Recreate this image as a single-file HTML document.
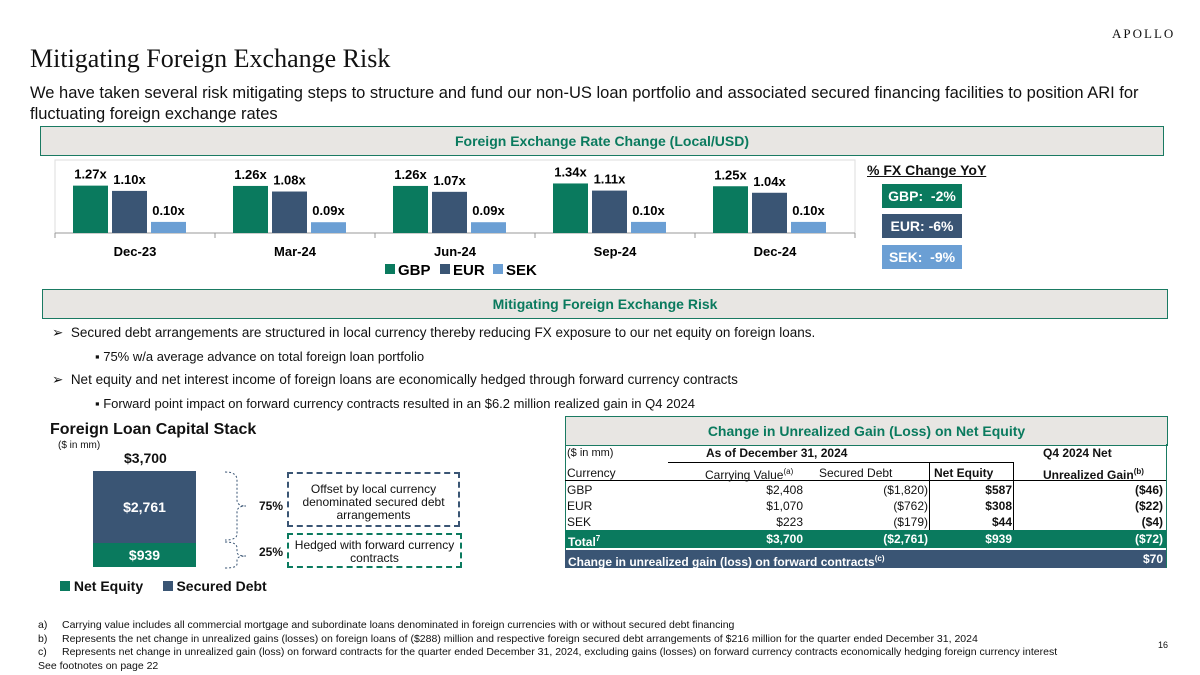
<!DOCTYPE html>
<html><head><meta charset="utf-8"><style>
body{margin:0;width:1200px;height:675px;position:relative;background:#fff;font-family:"Liberation Sans",sans-serif;color:#111;overflow:hidden}
.a{position:absolute;white-space:nowrap}
.hdr{position:absolute;background:#e8e6e3;border:1px solid #1a7a62;color:#0a7a5e;font-weight:bold;font-size:14px;text-align:center}
.b{font-weight:bold}
.td{position:absolute;font-size:12px;line-height:14px;white-space:nowrap}
</style></head><body>
<div class="a" style="left:1112px;top:26px;font-family:'Liberation Serif',serif;font-size:13px;letter-spacing:2px">APOLLO</div>
<div class="a" style="left:30px;top:44px;font-family:'Liberation Serif',serif;font-size:26px">Mitigating Foreign Exchange Risk</div>
<div class="a" style="left:30px;top:83px;font-size:16.5px;line-height:21px;white-space:normal;width:1140px">We have taken several risk mitigating steps to structure and fund our non-US loan portfolio and associated secured financing facilities to position ARI for fluctuating foreign exchange rates</div>
<div class="hdr" style="left:40px;top:126px;width:1122px;height:28px;line-height:28px">Foreign Exchange Rate Change (Local/USD)</div>

<svg id="fx" class="a" style="left:0;top:0" width="1200" height="290"></svg>

<div class="a b" style="left:867px;top:162px;font-size:14px;text-decoration:underline">% FX Change YoY</div>
<div class="a b" style="left:882px;top:184px;width:80px;height:24px;line-height:24px;text-align:center;background:#0a7a5e;color:#fff;font-size:14px">GBP:&nbsp; -2%</div>
<div class="a b" style="left:882px;top:214px;width:80px;height:24px;line-height:24px;text-align:center;background:#3a5574;color:#fff;font-size:14px">EUR: -6%</div>
<div class="a b" style="left:882px;top:245px;width:80px;height:24px;line-height:24px;text-align:center;background:#6b9fd4;color:#fff;font-size:14px">SEK:&nbsp; -9%</div>

<div class="hdr" style="left:42px;top:289px;width:1124px;height:28px;line-height:28px">Mitigating Foreign Exchange Risk</div>
<div class="a" style="left:52px;top:325px;font-size:13.5px">➢&nbsp; Secured debt arrangements are structured in local currency thereby reducing FX exposure to our net equity on foreign loans.</div>
<div class="a" style="left:95px;top:349px;font-size:13px">▪ 75% w/a average advance on total foreign loan portfolio</div>
<div class="a" style="left:52px;top:372px;font-size:13.5px">➢&nbsp; Net equity and net interest income of foreign loans are economically hedged through forward currency contracts</div>
<div class="a" style="left:95px;top:396px;font-size:13px">▪ Forward point impact on forward currency contracts resulted in an $6.2 million realized gain in Q4 2024</div>

<div class="a b" style="left:50px;top:421px;font-size:16px">Foreign Loan Capital Stack</div>
<div class="a" style="left:58px;top:440px;font-size:10px">($ in mm)</div>
<div class="a b" style="left:124px;top:450px;font-size:14px">$3,700</div>
<div class="a b" style="left:93px;top:471px;width:103px;height:72px;background:#3a5574;color:#fff;font-size:14px;text-align:center;line-height:72px">$2,761</div>
<div class="a b" style="left:93px;top:543px;width:103px;height:24px;background:#0a7a5e;color:#fff;font-size:14px;text-align:center;line-height:24px">$939</div>
<svg class="a" style="left:220px;top:468px" width="60" height="105">
<path d="M5 4 Q17 4 17 12 L17 32 Q17 38 26 38 Q17 38 17 44 L17 66 Q17 72 5 72" fill="none" stroke="#3a5574" stroke-dasharray="2 2"/>
<path d="M5 74 Q17 74 17 80 L17 84 Q17 88 26 88 Q17 88 17 92 L17 96 Q17 100 5 100" fill="none" stroke="#3a5574" stroke-dasharray="2 2"/>
</svg>
<div class="a b" style="left:259px;top:499px;font-size:12px">75%</div>
<div class="a b" style="left:259px;top:545px;font-size:12px">25%</div>
<div class="a" style="left:287px;top:472px;width:173px;height:55px;border:2px dashed #3a5574;font-size:12px;text-align:center;white-space:normal;line-height:13px;padding-top:9px;box-sizing:border-box">Offset by local currency denominated secured debt arrangements</div>
<div class="a" style="left:287px;top:533px;width:175px;height:35px;border:2px dashed #0a7a5e;font-size:12px;text-align:center;white-space:normal;line-height:13px;padding-top:4px;box-sizing:border-box">Hedged with forward currency contracts</div>
<div class="a b" style="left:60px;top:578px;font-size:14px"><span style="display:inline-block;width:10px;height:10px;background:#0a7a5e"></span> Net Equity &nbsp;&nbsp;&nbsp;&nbsp;<span style="display:inline-block;width:10px;height:10px;background:#3a5574"></span> Secured Debt</div>

<div>
<div class="hdr" style="left:565px;top:416px;width:601px;height:28px;line-height:28px">Change in Unrealized Gain (Loss) on Net Equity</div>
<div class="a" style="left:565px;top:444px;width:1px;height:124px;background:#1a7a62"></div>
<div class="a" style="left:1166px;top:444px;width:1px;height:124px;background:#1a7a62"></div>
<div class="td" style="left:567px;top:446px;font-size:11px">($ in mm)</div>
<div class="td b" style="left:706px;top:446px">As of December 31, 2024</div>
<div class="td b" style="left:1043px;top:446px">Q4 2024 Net</div>
<div class="a" style="left:668px;top:462px;width:346px;height:1px;background:#000"></div>
<div class="a" style="left:929px;top:462px;width:85px;height:68px;border-left:1px solid #000;border-right:1px solid #000;box-sizing:border-box"></div>
<div class="a" style="left:565px;top:480px;width:601px;height:1px;background:#000"></div>
<div class="td" style="left:567px;top:466px">Currency</div>
<div class="td" style="left:705px;top:465px">Carrying Value<sup style="font-size:8px">(a)</sup></div>
<div class="td" style="left:819px;top:466px">Secured Debt</div>
<div class="td b" style="left:934px;top:466px">Net Equity</div>
<div class="td b" style="left:1043px;top:465px">Unrealized Gain<sup style="font-size:8px">(b)</sup></div>
<div id="rows"></div>
<div class="a" style="left:565px;top:530px;width:601px;height:18px;background:#0a7a5e"></div>
<div class="td b" style="left:568px;top:532px;color:#fff">Total<sup style="font-size:8px">7</sup></div>
<div class="td b" style="right:397px;top:532px;color:#fff">$3,700</div>
<div class="td b" style="right:272px;top:532px;color:#fff">($2,761)</div>
<div class="td b" style="right:188px;top:532px;color:#fff">$939</div>
<div class="td b" style="right:37px;top:532px;color:#fff">($72)</div>
<div class="a" style="left:565px;top:550px;width:601px;height:18px;background:#3a5574"></div>
<div class="td b" style="left:568px;top:552px;color:#fff">Change in unrealized gain (loss) on forward contracts<sup style="font-size:8px">(c)</sup></div>
<div class="td b" style="right:37px;top:552px;color:#fff">$70</div>
</div>

<div class="a" style="left:38px;top:619px;font-size:10.5px;line-height:13.5px">
<div><span style="display:inline-block;width:24px">a)</span>Carrying value includes all commercial mortgage and subordinate loans denominated in foreign currencies with or without secured debt financing</div>
<div><span style="display:inline-block;width:24px">b)</span>Represents the net change in unrealized gains (losses) on foreign loans of ($288) million and respective foreign secured debt arrangements of $216 million for the quarter ended December 31, 2024</div>
<div><span style="display:inline-block;width:24px">c)</span>Represents net change in unrealized gain (loss) on forward contracts for the quarter ended December 31, 2024, excluding gains (losses) on forward currency contracts economically hedging foreign currency interest</div>
<div>See footnotes on page 22</div>
</div>
<div class="a" style="left:1158px;top:640px;font-size:9px">16</div>

<script>
const categories=["Dec-23","Mar-24","Jun-24","Sep-24","Dec-24"];
const gbp=[1.27,1.26,1.26,1.34,1.25];
const eur=[1.10,1.08,1.07,1.11,1.04];
const sek=[0.10,0.09,0.09,0.10,0.10];
const seriesNames=["GBP","EUR","SEK"];
const colors=["#0a7a5e","#3a5574","#6b9fd4"];
const NS="http://www.w3.org/2000/svg";
const svg=document.getElementById('fx');
const x0=55,gw=160,base=233;
const yh=v=>8+v*31;
function mk(t,a){const e=document.createElementNS(NS,t);for(const k in a)e.setAttribute(k,a[k]);svg.appendChild(e);return e;}
let fr=mk('rect',{x:x0,y:160,width:gw*5,height:base-160,fill:'none',stroke:'#ddd'});


mk('line',{x1:x0,y1:base,x2:x0+gw*5,y2:base,stroke:'#999'});
const all=[gbp,eur,sek];
categories.forEach((c,i)=>{
  const gx=x0+i*gw;
  mk('line',{x1:gx,y1:base,x2:gx,y2:base+5,stroke:'#999'});
  if(i==4)mk('line',{x1:gx+gw,y1:base,x2:gx+gw,y2:base+5,stroke:'#999'});
  all.forEach((s,j)=>{
    const bx=gx+18+j*39,h=yh(s[i]);
    const r=mk('rect',{x:bx,y:base-h,width:35,height:h,fill:colors[j]});
    
    
    const t=mk('text',{x:bx+17.5,y:base-h-7,'text-anchor':'middle','font-size':13,'font-weight':'bold','font-family':'Liberation Sans'});
    t.textContent=s[i].toFixed(2)+'x';
    
    
  });
  const l=mk('text',{x:gx+gw/2,y:base+23,'text-anchor':'middle','font-size':13,'font-weight':'bold','font-family':'Liberation Sans'});
  l.textContent=c;
  
  
});
let lx=385;
seriesNames.forEach((n,j)=>{
  const r=mk('rect',{x:lx,y:264,width:10,height:10,fill:colors[j]});
  
  
  const t=mk('text',{x:lx+13,y:275,'font-size':15,'font-weight':'bold','font-family':'Liberation Sans'});
  t.textContent=n;
  
  
  lx+=n=="GBP"?55:53;
});
const rowsData=[["GBP","$2,408","($1,820)","$587","($46)"],["EUR","$1,070","($762)","$308","($22)"],["SEK","$223","($179)","$44","($4)"]];
const rights=[null,397,272,188,37];
const rc=document.getElementById('rows');
rowsData.forEach((r,i)=>{
  const top=483+i*16;
  r.forEach((v,k)=>{
    const d=document.createElement('div');
    d.className='td'+(k>=3?' b':'');
    d.style.top=top+'px';
    if(k==0)d.style.left='567px';else d.style.right=rights[k]+'px';
    d.textContent=v;
    
    
    rc.appendChild(d);
  });
});
</script>
</body></html>
